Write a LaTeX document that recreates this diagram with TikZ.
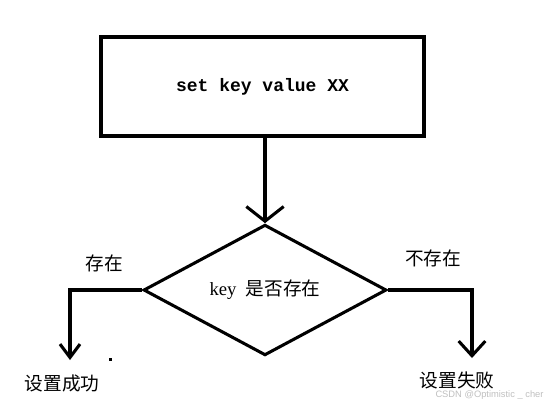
\documentclass[tikz,border=0pt]{standalone}
\usepackage{fontspec}
\setmainfont{Liberation Serif}
\setmonofont{Liberation Mono}
\newfontfamily\cjk{Noto Sans CJK SC}
\newfontfamily\marksans{Liberation Sans}
\usetikzlibrary{shapes.geometric,arrows.meta}

\begin{document}
\begin{tikzpicture}[x=0.75pt, y=-0.75pt,
		flowline/.style={line width=2.3pt, line join=miter},
		label/.style={font=\cjk\fontsize{14}{16}\selectfont, inner sep=0pt}]
		%%%%% START %%%%%
		\useasboundingbox (0, 0) rectangle (549, 405);
		
		\node[draw, line width=3pt, minimum width=323*0.75pt, minimum height=99*0.75pt, font=\ttfamily\bfseries\fontsize{13.5}{16}\selectfont] (setbox) at (262.5, 86.5) {set key value XX};
		
		\node[draw, diamond, flowline, inner sep=0pt, minimum width=243*0.75pt, minimum height=128*0.75pt, font=\fontsize{14}{16}\selectfont] (exists) at (265, 290) {key\ \ {\cjk 是否存在}};
		
		\draw[flowline, -{Straight Barb[length=11pt, width=28pt, line width=2.3pt]}] (setbox.south -| exists.north) -- (exists.north);
		
		\node[label] (yes) at (104, 263) {存在};
		\node[label] (no) at (433, 258) {不存在};
		\node[label] (ok) at (62, 383) {设置成功};
		\node[label] (fail) at (457, 380) {设置失败};
		
		\coordinate (okend) at (70, 360);
		\coordinate (failend) at (472, 358);
		\draw[flowline, -{Straight Barb[length=10pt, width=15pt, line width=2.3pt]}] (exists.west) -| (okend);
		\draw[flowline, -{Straight Barb[length=11pt, width=20pt, line width=2.3pt]}] (exists.east) -| (failend);
		
		\fill (108.5, 357.5) rectangle (111.5, 360.5);
		
		\node[font=\marksans\fontsize{7}{8}\selectfont, text=black!25, inner sep=0pt] (mark) at (489.5, 395) {CSDN @Optimistic \_ cher};
		%%%%% END %%%%%
\end{tikzpicture}
\end{document}
